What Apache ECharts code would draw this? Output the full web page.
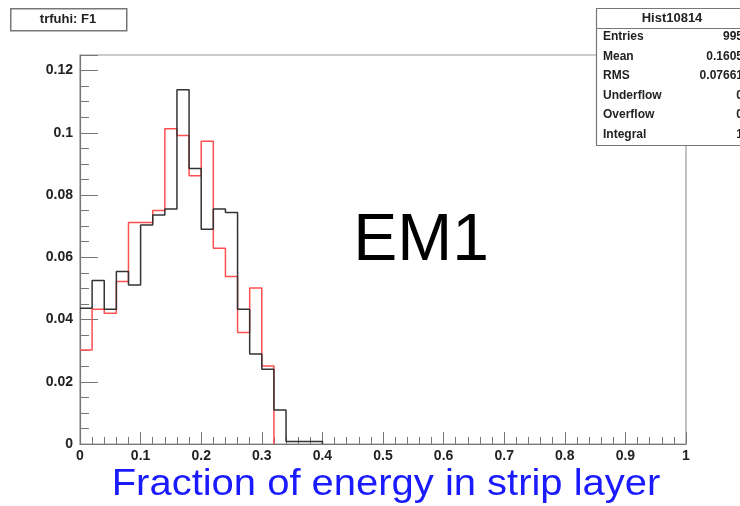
<!DOCTYPE html>
<html>
<head>
    <meta charset="utf-8">
    <title>EM1</title>
    <script src="https://cdn.jsdelivr.net/npm/echarts@6/dist/echarts.min.js"></script>
    <style>
        body { margin: 0; background: #fff; }
    </style>
</head>
<body>
    <div id="main" style="width: 740px;height:506px;"></div>
    <script type="text/javascript">
        // 直方图的bin宽度和数据（每个bin一个值，从0开始）
        var binWidth = 0.02;
        var blackBins = [0.0436, 0.0525, 0.0433, 0.0554, 0.0511, 0.0704, 0.0736, 0.0755, 0.1138, 0.0885,
                         0.0690, 0.0755, 0.0744, 0.0433, 0.0289, 0.0240, 0.0109, 0.0008, 0.0008, 0.0008];
        var redBins = [0.0302, 0.0433, 0.0420, 0.0522, 0.0712, 0.0712, 0.0750, 0.1013, 0.0991, 0.0862,
                       0.0973, 0.0629, 0.0538, 0.0358, 0.0501, 0.0251];
        var statNames = ['Entries', 'Mean', 'RMS', 'Underflow', 'Overflow', 'Integral'];
        var statValues = ['995', '0.1605', '0.07661', '0', '0', '1'];

        // 把bin值整理成阶梯线的点
        function steps(bins) {
          var pts = [];
          bins.forEach(function (v, i) {
            pts.push([i * binWidth, v]);
            pts.push([(i + 1) * binWidth, v]);
          });
          pts.push([bins.length * binWidth, 0]);
          return pts;
        }

        var myChart = echarts.init(document.getElementById('main'));

        var font = 'Liberation Sans, Arial, Helvetica, sans-serif';
        var graphics = [];
        // 左上角标题框
        graphics.push({
          type: 'rect', left: 10, top: 8, z: 10,
          shape: { width: 116, height: 22 },
          style: { fill: '#fff', stroke: '#777', lineWidth: 1.5 }
        });
        graphics.push({
          type: 'text', x: 68, y: 19.5, z: 11,
          style: { text: 'trfuhi: F1', font: 'bold 13px ' + font, fill: '#222', align: 'center', verticalAlign: 'middle' }
        });
        // 统计框
        graphics.push({
          type: 'rect', x: 596.5, y: 8.5, z: 10,
          shape: { width: 160, height: 137 },
          style: { fill: '#fff', stroke: '#777', lineWidth: 1.2 }
        });
        graphics.push({
          type: 'line', z: 11,
          shape: { x1: 596.5, y1: 28.5, x2: 740, y2: 28.5 },
          style: { stroke: '#777', lineWidth: 1.2 }
        });
        graphics.push({
          type: 'text', x: 672, y: 18, z: 11,
          style: { text: 'Hist10814', font: 'bold 13px ' + font, fill: '#222', align: 'center', verticalAlign: 'middle' }
        });
        statNames.forEach(function (name, i) {
          var y = 37 + i * 19.5;
          graphics.push({
            type: 'text', x: 603, y: y, z: 11,
            style: { text: name, font: 'bold 12px ' + font, fill: '#222', align: 'left', verticalAlign: 'middle' }
          });
          graphics.push({
            type: 'text', x: 743, y: y, z: 11,
            style: { text: statValues[i], font: 'bold 12px ' + font, fill: '#222', align: 'right', verticalAlign: 'middle' }
          });
        });
        // 大字 EM1
        graphics.push({
          type: 'text', x: 421, y: 242, z: 5,
          style: { text: 'EM1', font: '66px ' + font, fill: '#000', align: 'center', verticalAlign: 'middle' }
        });
        // x轴标题（原图略微横向拉伸）
        graphics.push({
          type: 'text', x: 386, y: 485, z: 5, scaleX: 1.11,
          style: { text: 'Fraction of energy in strip layer', font: '36px ' + font, fill: '#1a1aff', align: 'center', verticalAlign: 'middle' }
        });

        var option = {
          animation: false,
          backgroundColor: '#fff',
          grid: {
            left: 80, right: 54, top: 55, bottom: 62,
            show: true, borderColor: '#999', borderWidth: 1.2
          },
          xAxis: {
            type: 'value', min: 0, max: 1, interval: 0.1,
            axisLine: { lineStyle: { color: '#777', width: 1.2 } },
            axisTick: { inside: true, length: 12, lineStyle: { color: '#777' } },
            minorTick: { show: true, splitNumber: 5, length: 7, lineStyle: { color: '#777' } },
            splitLine: { show: false },
            axisLabel: { margin: 5, color: '#222', fontWeight: 'bold', fontSize: 14, fontFamily: font }
          },
          yAxis: {
            type: 'value', min: 0, max: 0.125, interval: 0.02,
            axisLine: { show: true, lineStyle: { color: '#777', width: 1.2 } },
            axisTick: { show: true, inside: true, length: 18, lineStyle: { color: '#777' } },
            minorTick: { show: true, splitNumber: 4, length: 9, lineStyle: { color: '#777' } },
            splitLine: { show: false },
            axisLabel: { margin: 7, color: '#222', fontWeight: 'bold', fontSize: 14, fontFamily: font, showMaxLabel: false }
          },
          series: [{
            name: 'red', type: 'line', data: steps(redBins), showSymbol: false,
            lineStyle: { color: '#ff5050', width: 1.5 }, z: 2
          }, {
            name: 'black', type: 'line', data: steps(blackBins), showSymbol: false,
            lineStyle: { color: '#333', width: 1.5 }, z: 3
          }],
          graphic: graphics
        };
        myChart.setOption(option);
    </script>
</body>
</html>
